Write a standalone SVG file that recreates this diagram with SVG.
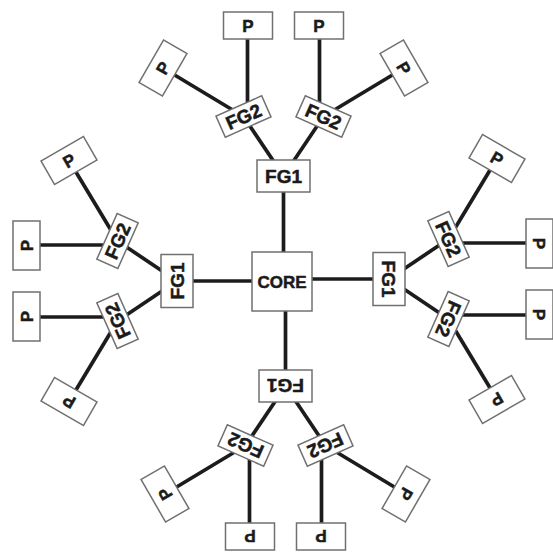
<svg xmlns="http://www.w3.org/2000/svg" width="553" height="552" viewBox="0 0 553 552">
<style>
.bg{fill:#fff}
.box{fill:#fff;stroke:#707070;stroke-width:1.5}
.lbl{font-family:"Liberation Sans",Arial,sans-serif;font-weight:bold;fill:#1a1a1a;stroke:#1a1a1a;stroke-width:0.5;text-anchor:middle}
.fg{font-size:19px}
.p{font-size:17px}
.core{font-size:17px}
.conn line{stroke:#1c1c1c;stroke-width:3.7}
</style>
<rect class="bg" width="553" height="552"/>
<g id="connectors" class="conn">
  <g transform="translate(283.5,176)">
    <line x1="0" y1="0" x2="0" y2="104"/>
    <line x1="0" y1="0" x2="-40" y2="-59.5"/>
    <line x1="0" y1="0" x2="40" y2="-59.5"/>
    <line x1="-36" y1="-59.5" x2="-36" y2="-150.5"/>
    <line x1="36" y1="-59.5" x2="36" y2="-150.5"/>
    <line x1="-40" y1="-59.5" x2="-120.5" y2="-108"/>
    <line x1="40" y1="-59.5" x2="120.5" y2="-108"/>
  </g>
  <g transform="translate(389,279) rotate(90)">
    <line x1="0" y1="0" x2="0" y2="104"/>
    <line x1="0" y1="0" x2="-40" y2="-59.5"/>
    <line x1="0" y1="0" x2="40" y2="-59.5"/>
    <line x1="-36" y1="-59.5" x2="-36" y2="-150.5"/>
    <line x1="36" y1="-59.5" x2="36" y2="-150.5"/>
    <line x1="-40" y1="-59.5" x2="-120.5" y2="-108"/>
    <line x1="40" y1="-59.5" x2="120.5" y2="-108"/>
  </g>
  <g transform="translate(285.5,386) rotate(180)">
    <line x1="0" y1="0" x2="0" y2="104"/>
    <line x1="0" y1="0" x2="-40" y2="-59.5"/>
    <line x1="0" y1="0" x2="40" y2="-59.5"/>
    <line x1="-36" y1="-59.5" x2="-36" y2="-150.5"/>
    <line x1="36" y1="-59.5" x2="36" y2="-150.5"/>
    <line x1="-40" y1="-59.5" x2="-120.5" y2="-108"/>
    <line x1="40" y1="-59.5" x2="120.5" y2="-108"/>
  </g>
  <g transform="translate(177,281) rotate(-90)">
    <line x1="0" y1="0" x2="0" y2="104"/>
    <line x1="0" y1="0" x2="-40" y2="-59.5"/>
    <line x1="0" y1="0" x2="40" y2="-59.5"/>
    <line x1="-36" y1="-59.5" x2="-36" y2="-150.5"/>
    <line x1="36" y1="-59.5" x2="36" y2="-150.5"/>
    <line x1="-40" y1="-59.5" x2="-120.5" y2="-108"/>
    <line x1="40" y1="-59.5" x2="120.5" y2="-108"/>
  </g>
</g>
<g id="core" transform="translate(282,281.5)">
  <rect class="box" x="-30" y="-29.5" width="60" height="59"/>
  <text class="lbl core" x="0" y="6.1">CORE</text>
</g>
<g id="arm-top" transform="translate(283.5,176)">
  <g id="t-fg1"><rect class="box" x="-26.5" y="-16" width="53" height="32"/><text class="lbl fg" x="0" y="6.8">FG1</text></g>
  <g id="t-fg2-l" transform="translate(-40,-59.5) rotate(-24)"><rect class="box" x="-25" y="-11.5" width="50" height="23"/><text class="lbl fg" x="0" y="6.8">FG2</text></g>
  <g id="t-fg2-r" transform="translate(40,-59.5) rotate(24)"><rect class="box" x="-25" y="-11.5" width="50" height="23"/><text class="lbl fg" x="0" y="6.8">FG2</text></g>
  <g id="t-p1" transform="translate(-35.5,-150.5)"><rect class="box" x="-24.5" y="-13.5" width="49" height="27"/><text class="lbl p" x="0" y="6.1">P</text></g>
  <g id="t-p2" transform="translate(35.5,-150.5)"><rect class="box" x="-24.5" y="-13.5" width="49" height="27"/><text class="lbl p" x="0" y="6.1">P</text></g>
  <g id="t-p3" transform="translate(-120.5,-108) rotate(-60)"><rect class="box" x="-24.5" y="-13.5" width="49" height="27"/><text class="lbl p" x="0" y="6.1">P</text></g>
  <g id="t-p4" transform="translate(120.5,-108) rotate(60)"><rect class="box" x="-24.5" y="-13.5" width="49" height="27"/><text class="lbl p" x="0" y="6.1">P</text></g>
</g>
<g id="arm-right" transform="translate(389,279) rotate(90)">
  <g id="r-fg1"><rect class="box" x="-26.5" y="-16" width="53" height="32"/><text class="lbl fg" x="0" y="6.8">FG1</text></g>
  <g id="r-fg2-l" transform="translate(-40,-59.5) rotate(-24)"><rect class="box" x="-25" y="-11.5" width="50" height="23"/><text class="lbl fg" x="0" y="6.8">FG2</text></g>
  <g id="r-fg2-r" transform="translate(40,-59.5) rotate(24)"><rect class="box" x="-25" y="-11.5" width="50" height="23"/><text class="lbl fg" x="0" y="6.8">FG2</text></g>
  <g id="r-p1" transform="translate(-35.5,-150.5)"><rect class="box" x="-24.5" y="-13.5" width="49" height="27"/><text class="lbl p" x="0" y="6.1">P</text></g>
  <g id="r-p2" transform="translate(35.5,-150.5)"><rect class="box" x="-24.5" y="-13.5" width="49" height="27"/><text class="lbl p" x="0" y="6.1">P</text></g>
  <g id="r-p3" transform="translate(-120.5,-108) rotate(-60)"><rect class="box" x="-24.5" y="-13.5" width="49" height="27"/><text class="lbl p" x="0" y="6.1">P</text></g>
  <g id="r-p4" transform="translate(120.5,-108) rotate(60)"><rect class="box" x="-24.5" y="-13.5" width="49" height="27"/><text class="lbl p" x="0" y="6.1">P</text></g>
</g>
<g id="arm-bottom" transform="translate(285.5,386) rotate(180)">
  <g id="b-fg1"><rect class="box" x="-26.5" y="-16" width="53" height="32"/><text class="lbl fg" x="0" y="6.8">FG1</text></g>
  <g id="b-fg2-l" transform="translate(-40,-59.5) rotate(-24)"><rect class="box" x="-25" y="-11.5" width="50" height="23"/><text class="lbl fg" x="0" y="6.8">FG2</text></g>
  <g id="b-fg2-r" transform="translate(40,-59.5) rotate(24)"><rect class="box" x="-25" y="-11.5" width="50" height="23"/><text class="lbl fg" x="0" y="6.8">FG2</text></g>
  <g id="b-p1" transform="translate(-35.5,-150.5)"><rect class="box" x="-24.5" y="-13.5" width="49" height="27"/><text class="lbl p" x="0" y="6.1">P</text></g>
  <g id="b-p2" transform="translate(35.5,-150.5)"><rect class="box" x="-24.5" y="-13.5" width="49" height="27"/><text class="lbl p" x="0" y="6.1">P</text></g>
  <g id="b-p3" transform="translate(-120.5,-108) rotate(-60)"><rect class="box" x="-24.5" y="-13.5" width="49" height="27"/><text class="lbl p" x="0" y="6.1">P</text></g>
  <g id="b-p4" transform="translate(120.5,-108) rotate(60)"><rect class="box" x="-24.5" y="-13.5" width="49" height="27"/><text class="lbl p" x="0" y="6.1">P</text></g>
</g>
<g id="arm-left" transform="translate(177,281) rotate(-90)">
  <g id="l-fg1"><rect class="box" x="-26.5" y="-16" width="53" height="32"/><text class="lbl fg" x="0" y="6.8">FG1</text></g>
  <g id="l-fg2-l" transform="translate(-40,-59.5) rotate(-24)"><rect class="box" x="-25" y="-11.5" width="50" height="23"/><text class="lbl fg" x="0" y="6.8">FG2</text></g>
  <g id="l-fg2-r" transform="translate(40,-59.5) rotate(24)"><rect class="box" x="-25" y="-11.5" width="50" height="23"/><text class="lbl fg" x="0" y="6.8">FG2</text></g>
  <g id="l-p1" transform="translate(-35.5,-150.5)"><rect class="box" x="-24.5" y="-13.5" width="49" height="27"/><text class="lbl p" x="0" y="6.1">P</text></g>
  <g id="l-p2" transform="translate(35.5,-150.5)"><rect class="box" x="-24.5" y="-13.5" width="49" height="27"/><text class="lbl p" x="0" y="6.1">P</text></g>
  <g id="l-p3" transform="translate(-120.5,-108) rotate(-60)"><rect class="box" x="-24.5" y="-13.5" width="49" height="27"/><text class="lbl p" x="0" y="6.1">P</text></g>
  <g id="l-p4" transform="translate(120.5,-108) rotate(60)"><rect class="box" x="-24.5" y="-13.5" width="49" height="27"/><text class="lbl p" x="0" y="6.1">P</text></g>
</g>
</svg>
